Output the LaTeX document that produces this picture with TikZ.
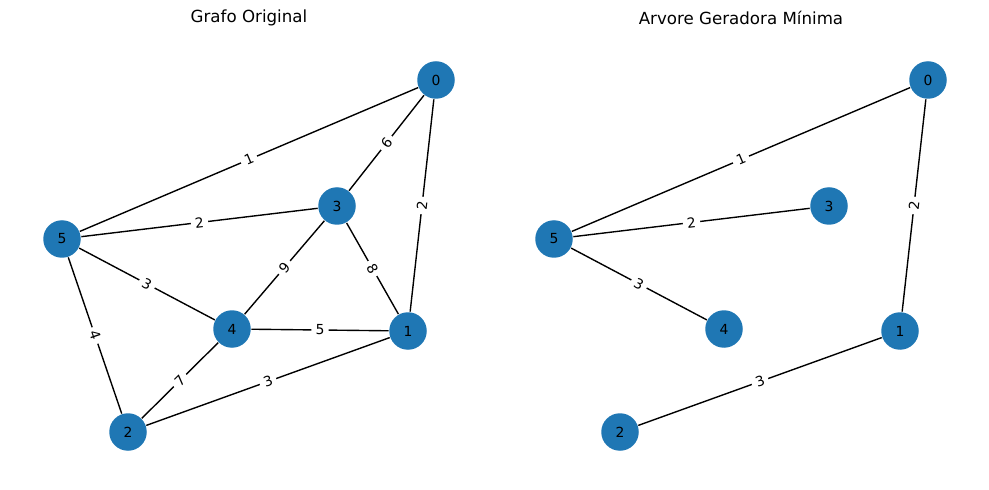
\documentclass[tikz,border=0pt]{standalone}
\usepackage{fontspec}
\setmainfont{DejaVu Sans}
\definecolor{nodeblue}{HTML}{1F77B4}
\tikzset{
	vert/.style={circle,fill=nodeblue,minimum size=27pt,inner sep=0pt,font=\fontsize{10}{12}\selectfont},
	wt/.style={midway,sloped,fill=white,rounded corners=2pt,inner xsep=3pt,inner ysep=1.5pt,font=\fontsize{10}{12}\selectfont},
}
\begin{document}
\begin{tikzpicture}[x=0.72pt,y=-0.72pt,line width=1pt]
		\useasboundingbox (0,0) rectangle (989,490);
		% grafo original
		\node (t1) at (249,18) {\fontsize{12}{14}\selectfont Grafo Original};
		\node[vert] (a0) at (436,80) {0};
		\node[vert] (a1) at (408,331) {1};
		\node[vert] (a2) at (128,432) {2};
		\node[vert] (a3) at (337,206) {3};
		\node[vert] (a4) at (232,329) {4};
		\node[vert] (a5) at (62,239) {5};
		\draw (a0) --node[wt]{1} (a5);
		\draw (a0) --node[wt]{6} (a3);
		\draw (a0) --node[wt]{2} (a1);
		\draw (a5) --node[wt]{2} (a3);
		\draw (a5) --node[wt]{3} (a4);
		\draw (a5) --node[wt]{4} (a2);
		\draw (a3) --node[wt]{9} (a4);
		\draw (a3) --node[wt]{8} (a1);
		\draw (a4) --node[wt]{5} (a1);
		\draw (a4) --node[wt]{7} (a2);
		\draw (a2) --node[wt]{3} (a1);
		% arvore geradora minima
		\node (t2) at (741,18) {\fontsize{12}{14}\selectfont Arvore Geradora Mínima};
		\node[vert] (b0) at (928,80) {0};
		\node[vert] (b1) at (900,331) {1};
		\node[vert] (b2) at (620,432) {2};
		\node[vert] (b3) at (829,206) {3};
		\node[vert] (b4) at (724,329) {4};
		\node[vert] (b5) at (554,239) {5};
		\draw (b0) --node[wt]{1} (b5);
		\draw (b0) --node[wt]{2} (b1);
		\draw (b5) --node[wt]{2} (b3);
		\draw (b5) --node[wt]{3} (b4);
		\draw (b2) --node[wt]{3} (b1);
	\end{tikzpicture}
\end{document}
